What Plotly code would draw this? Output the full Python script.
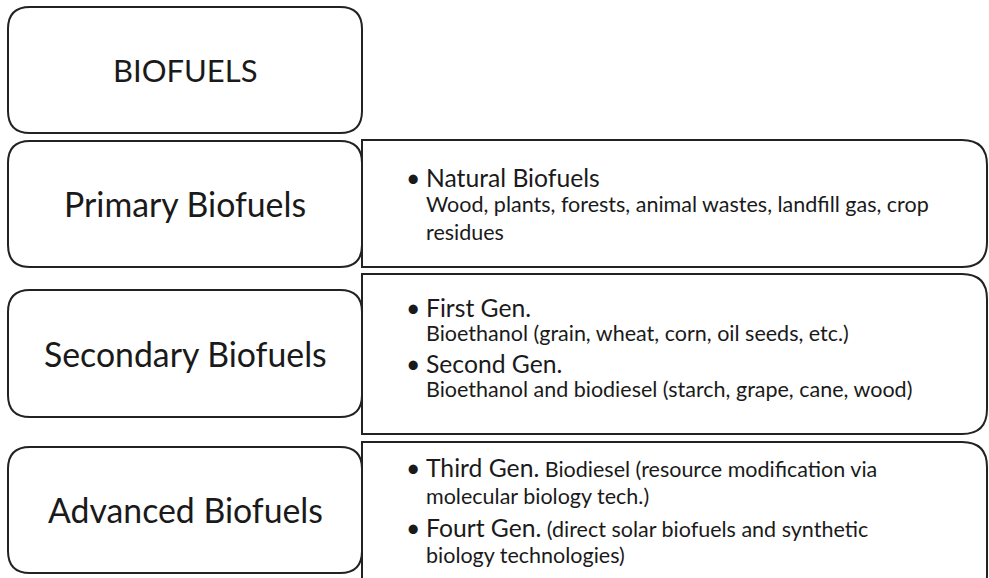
import plotly.graph_objects as go

# ---- content ----
categories = ["BIOFUELS", "Primary Biofuels", "Secondary Biofuels", "Advanced Biofuels"]

primary_headings = ["Natural Biofuels"]
primary_inline = [""]
primary_details = [["Wood, plants, forests, animal wastes, landfill gas, crop<br>residues"]]

secondary_headings = ["First Gen.", "Second Gen."]
secondary_inline = ["", ""]
secondary_details = [["Bioethanol (grain, wheat, corn, oil seeds, etc.)"],
                     ["Bioethanol and biodiesel (starch, grape, cane, wood)"]]

advanced_headings = ["Third Gen.", "Fourt Gen."]
advanced_inline = [" Biodiesel (resource modification via", " (direct solar biofuels and synthetic"]
advanced_details = [["molecular biology tech.)"], ["biology technologies)"]]

W, H = 989, 578
LINE = "#222222"
TXT = "#1a1a1a"
FONT = "Lato"

# ---- layout geometry (pixels) ----
LX0, LX1 = 8, 362
left_rows = [(7, 133), (141, 267), (290, 417), (447, 573)]
PX0, PX1 = 362, 987
panel_rows = [(140, 267), (274, 434), (442, 600)]


def round_rect(x0, y0, x1, y1, r):
    return (f"M{x0+r},{y0} L{x1-r},{y0} Q{x1},{y0} {x1},{y0+r} "
            f"L{x1},{y1-r} Q{x1},{y1} {x1-r},{y1} L{x0+r},{y1} "
            f"Q{x0},{y1} {x0},{y1-r} L{x0},{y0+r} Q{x0},{y0} {x0+r},{y0} Z")


def right_round_rect(x0, y0, x1, y1, r):
    return (f"M{x0},{y0} L{x1-r},{y0} Q{x1},{y0} {x1},{y0+r} "
            f"L{x1},{y1-r} Q{x1},{y1} {x1-r},{y1} L{x0},{y1} Z")


shapes = []
for (y0, y1) in panel_rows:
    shapes.append(dict(type="path", path=right_round_rect(PX0, y0, PX1, y1, 25),
                       line=dict(color=LINE, width=2), xref="x", yref="y", layer="above"))
for (y0, y1) in left_rows:
    shapes.append(dict(type="path", path=round_rect(LX0, y0, LX1, y1, 22),
                       line=dict(color=LINE, width=2), xref="x", yref="y", layer="above"))

annotations = []
label_sizes = [31, 33.8, 33.8, 33.8]
for cat, (y0, y1), fs in zip(categories, left_rows, label_sizes):
    annotations.append(dict(x=(LX0 + LX1) / 2, y=(y0 + y1) / 2, text=cat, showarrow=False,
                            xanchor="center", yanchor="middle",
                            font=dict(family=FONT, size=fs, color=TXT)))

BX, TX = 413, 424
HEAD_FS, DET_FS = 24.7, 21.5


def add_items(headings, inline, details, ys):
    k = 0
    for h, inl, det in zip(headings, inline, details):
        y = ys[k]
        annotations.append(dict(x=BX, y=y, text="•", showarrow=False, xanchor="center",
                                yanchor="middle", font=dict(family=FONT, size=HEAD_FS, color=TXT)))
        txt = h + (f"<span style='font-size:{DET_FS}px'>{inl}</span>" if inl else "")
        annotations.append(dict(x=TX, y=y, text=txt, showarrow=False, xanchor="left",
                                yanchor="middle", font=dict(family=FONT, size=HEAD_FS, color=TXT)))
        k += 1
        for d in det:
            annotations.append(dict(x=TX, y=ys[k], text=d, showarrow=False, xanchor="left",
                                    yanchor="middle", align="left",
                                    font=dict(family=FONT, size=DET_FS, color=TXT)))
            k += 1


add_items(primary_headings, primary_inline, primary_details, [177, 218])
add_items(secondary_headings, secondary_inline, secondary_details, [307, 333, 363, 389])
add_items(advanced_headings, advanced_inline, advanced_details, [467, 496, 527, 555])

fig = go.Figure()
fig.update_layout(
    width=W, height=H, margin=dict(l=0, r=0, t=0, b=0),
    paper_bgcolor="white", plot_bgcolor="white",
    xaxis=dict(range=[0, W], visible=False, fixedrange=True),
    yaxis=dict(range=[H, 0], visible=False, fixedrange=True),
    shapes=shapes, annotations=annotations, showlegend=False,
)
fig.write_html("out.html", config={"displayModeBar": False},
               post_script="document.body.style.margin='0';document.body.style.overflow='hidden';")
